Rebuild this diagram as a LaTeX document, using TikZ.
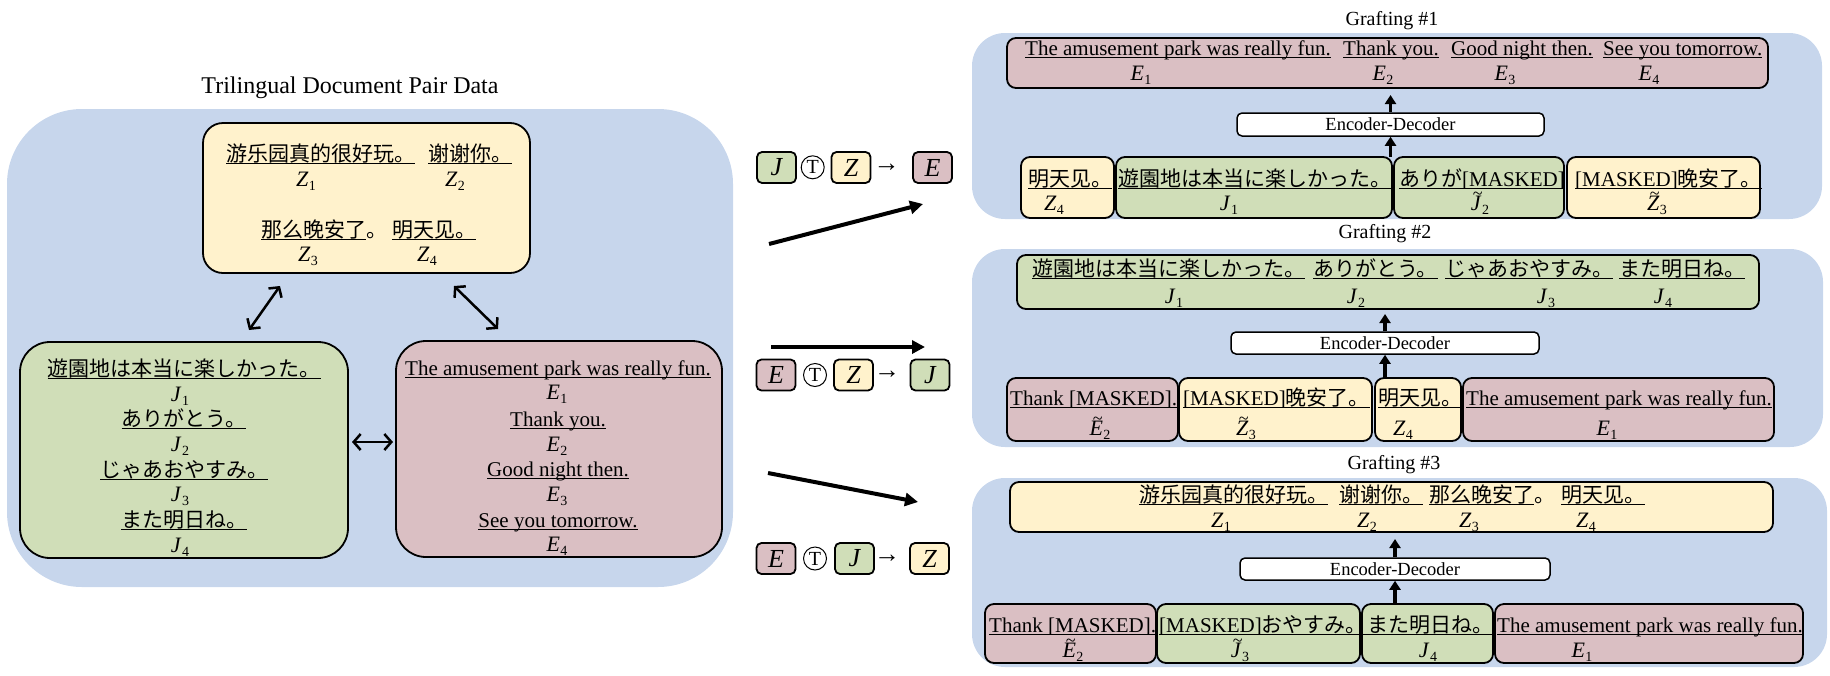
\documentclass[tikz,border=0pt]{standalone}
\usepackage{fontspec}
\setmainfont{Liberation Serif}
\newfontfamily\jpfont{Noto Sans CJK JP}
\newfontfamily\zhfont{Noto Sans CJK SC}
\usetikzlibrary{arrows.meta}
\definecolor{panelblue}{RGB}{199,214,236}
\definecolor{cyel}{RGB}{255,242,204}
\definecolor{cgrn}{RGB}{208,222,184}
\definecolor{cpnk}{RGB}{218,191,195}
\newsavebox\ulbox
\newcommand\ulx[1]{\sbox\ulbox{#1}\rlap{\rule[-3pt]{\wd\ulbox}{1.3pt}}\usebox\ulbox}
\newcommand\fs{\fontsize{21}{25}\selectfont}
\newcommand\lb[2]{\textit{#1}\kern0.5pt\raisebox{-4pt}{\fontsize{14}{14}\selectfont #2}}
\newcommand\tlb[2]{\ooalign{\textit{#1}\cr\hidewidth\kern3pt\raisebox{11pt}{\fontsize{18}{18}\selectfont\char"7E}\hidewidth\cr}\kern0.5pt\raisebox{-4pt}{\fontsize{14}{14}\selectfont #2}}
\newcommand\rbox[6]{\pgfmathsetmacro\rbw{(#5)-(#3)}\pgfmathsetmacro\rbh{(#6)-(#4)}%
  \node[#2, inner sep=0pt, outer sep=0pt, minimum width=\rbw pt, minimum height=\rbh pt] (#1) at ({((#3)+(#5))/2},{((#4)+(#6))/2}) {};}
\begin{document}
\begin{tikzpicture}[x=1pt,y=-1pt,
  panel/.style={fill=panelblue},
  bx/.style={draw=black, line width=1.8pt, rounded corners=9pt},
  ybx/.style={bx, fill=cyel}, gbx/.style={bx, fill=cgrn}, pbx/.style={bx, fill=cpnk},
  txt/.style={anchor=base west, inner sep=0pt, font=\fs},
  ctxt/.style={anchor=base, inner sep=0pt, font=\fs},
  lab/.style={inner sep=0pt, font=\fontsize{22}{24}\selectfont},
  head/.style={inner sep=0pt, font=\fontsize{20}{24}\selectfont},
  ttlstyle/.style={inner sep=0pt, font=\fontsize{24}{28}\selectfont},
  encbx/.style={draw=black, line width=1.5pt, fill=white, rounded corners=5pt, inner sep=0pt, font=\fontsize{18.5}{22}\selectfont},
  encarrow/.style={line width=3.5pt, -{Triangle[length=9pt,width=11pt]}},
  bigarrow/.style={line width=4pt, -{Triangle[length=13pt,width=13pt]}},
  dblarrow/.style={line width=2.5pt, {Straight Barb[length=7pt,width=16pt]}-{Straight Barb[length=7pt,width=16pt]}},
  fbx/.style={draw=black, line width=1.8pt, rounded corners=5pt, minimum width=39pt, minimum height=31pt, inner sep=0pt, font=\fontsize{26}{26}\selectfont\itshape},
  tcirc/.style={circle, draw=black, line width=1pt, minimum size=23pt, inner sep=0pt, font=\fontsize{20}{20}\selectfont},
  sarrow/.style={inner sep=0pt, font=\fontsize{26}{26}\selectfont}
]
\useasboundingbox (0,0) rectangle (1830,675);

% ---------------- left panel ----------------
\node[ttlstyle] (ttl) at (350,88) {Trilingual Document Pair Data};
\rbox{lp}{panel, rounded corners=75pt}{7}{109}{733}{587}
\rbox{zl}{ybx, rounded corners=20pt}{203}{123}{530}{273}
\rbox{gl}{gbx, rounded corners=30pt}{20}{342}{348}{558}
\rbox{pl}{pbx, rounded corners=30pt}{396}{341}{722}{557}

\node[txt] (zlt1) at (226,161) {\zhfont\ulx{游乐园真的很好玩。}};
\node[txt] (zlt2) at (428,161) {\zhfont\ulx{谢谢你。}};
\node[lab] (zll1) at (306,181) {\lb{Z}{1}};
\node[lab] (zll2) at (455,181) {\lb{Z}{2}};
\node[txt] (zlt3) at (261,237) {\zhfont\ulx{那么晚安了}。};
\node[txt] (zlt4) at (392,237) {\zhfont\ulx{明天见。}};
\node[lab] (zll3) at (308,256) {\lb{Z}{3}};
\node[lab] (zll4) at (427,256) {\lb{Z}{4}};

\node[ctxt] (glt1) at (184,376) {\jpfont\ulx{遊園地は本当に楽しかった。}};
\node[lab] (gll1) at (180,396) {\lb{J}{1}};
\node[ctxt] (glt2) at (184,426) {\jpfont\ulx{ありがとう。}};
\node[lab] (gll2) at (180,446) {\lb{J}{2}};
\node[ctxt] (glt3) at (184,477) {\jpfont\ulx{じゃあおやすみ。}};
\node[lab] (gll3) at (180,496) {\lb{J}{3}};
\node[ctxt] (glt4) at (184,527) {\jpfont\ulx{また明日ね。}};
\node[lab] (gll4) at (180,547) {\lb{J}{4}};

\node[ctxt] (plt1) at (558,375) {\ulx{The amusement park was really fun.}};
\node[lab] (pll1) at (557,394) {\lb{E}{1}};
\node[ctxt] (plt2) at (558,426) {\ulx{Thank you.}};
\node[lab] (pll2) at (557,446) {\lb{E}{2}};
\node[ctxt] (plt3) at (558,476) {\ulx{Good night then.}};
\node[lab] (pll3) at (557,496) {\lb{E}{3}};
\node[ctxt] (plt4) at (558,527) {\ulx{See you tomorrow.}};
\node[lab] (pll4) at (557,546) {\lb{E}{4}};

\coordinate (d1a) at (280,286); \coordinate (d1b) at (249,330);
\coordinate (d2a) at (454,286); \coordinate (d2b) at (498,329);
\coordinate (d3a) at (352,442); \coordinate (d3b) at (393,442);
\draw[dblarrow] (d1a) -- (d1b);
\draw[dblarrow] (d2a) -- (d2b);
\draw[dblarrow] (d3a) -- (d3b);

% ---------------- middle formulas ----------------
\node[fbx, fill=cgrn] (f1a) at (776.5,167.5) {J};
\node[tcirc] (f1t) at (812.7,167.3) {T};
\node[fbx, fill=cyel] (f1b) at (851,167.5) {Z};
\node[sarrow] (f1r) at (886.5,167.5) {→};
\node[fbx, fill=cpnk] (f1c) at (932.5,167.5) {E};

\node[fbx, fill=cpnk] (f2a) at (776,375) {E};
\node[tcirc] (f2t) at (815,375) {T};
\node[fbx, fill=cyel] (f2b) at (853.5,375) {Z};
\node[sarrow] (f2r) at (887,375) {→};
\node[fbx, fill=cgrn] (f2c) at (930,375) {J};

\node[fbx, fill=cpnk] (f3a) at (776,558.5) {E};
\node[tcirc] (f3t) at (815,558.5) {T};
\node[fbx, fill=cgrn] (f3b) at (854.5,558.5) {J};
\node[sarrow] (f3r) at (887,558.5) {→};
\node[fbx, fill=cyel] (f3c) at (929.5,558.5) {Z};

\coordinate (m1s) at (769,244); \coordinate (m1e) at (923,204);
\coordinate (m2s) at (771,347); \coordinate (m2e) at (925,347);
\coordinate (m3s) at (768,473); \coordinate (m3e) at (918,502);
\draw[bigarrow] (m1s) -- (m1e);
\draw[bigarrow] (m2s) -- (m2e);
\draw[bigarrow] (m3s) -- (m3e);

% ---------------- Grafting #1 ----------------
\node[head] (g1h) at (1392,21) {Grafting \#1};
\rbox{g1}{panel, rounded corners=33pt}{972}{33}{1822}{219}
\rbox{g1o}{pbx}{1007}{38}{1768}{88}
\node[txt] (g1t1) at (1025,55) {\ulx{The amusement park was really fun.}};
\node[txt] (g1t2) at (1343,55) {\ulx{Thank you.}};
\node[txt] (g1t3) at (1451,55) {\ulx{Good night then.}};
\node[txt] (g1t4) at (1603,55) {\ulx{See you tomorrow.}};
\node[lab] (g1l1) at (1141,75) {\lb{E}{1}};
\node[lab] (g1l2) at (1383,75) {\lb{E}{2}};
\node[lab] (g1l3) at (1505,75) {\lb{E}{3}};
\node[lab] (g1l4) at (1649,75) {\lb{E}{4}};
\node[encbx, minimum width=307pt, minimum height=23pt] (g1enc) at (1390.5,124.5) {Encoder-Decoder};
\rbox{g1b1}{ybx}{1021}{157}{1114}{218}
\rbox{g1b2}{gbx}{1116}{157}{1392}{218}
\rbox{g1b3}{gbx}{1394}{157}{1564}{218}
\rbox{g1b4}{ybx}{1567}{157}{1760}{218}
\node[txt] (g1s1) at (1028,186) {\zhfont\ulx{明天见。}};
\node[txt] (g1s2) at (1118,186) {\jpfont\ulx{遊園地は本当に楽しかった。}};
\node[txt] (g1s3) at (1399,186) {\ulx{{\jpfont ありが}[MASKED]}};
\node[txt] (g1s4) at (1575,186) {\ulx{[MASKED]{\zhfont 晚安了。}}};
\node[lab] (g1m1) at (1054,205) {\lb{Z}{4}};
\node[lab] (g1m2) at (1229,205) {\lb{J}{1}};
\node[lab] (g1m3) at (1480,205) {\tlb{J}{2}};
\node[lab] (g1m4) at (1657,205) {\tlb{Z}{3}};
\draw[encarrow, shorten >=7pt] (g1enc.north) -- (g1enc.north |- g1o.south);
\draw[encarrow] (g1enc.south |- g1b2.north) -- (g1enc.south);

% ---------------- Grafting #2 ----------------
\node[head] (g2h) at (1385,234) {Grafting \#2};
\rbox{g2}{panel, rounded corners=33pt}{972}{249}{1823}{447}
\rbox{g2o}{gbx}{1017}{255}{1759}{309}
\node[txt] (g2t1) at (1032,276) {\jpfont\ulx{遊園地は本当に楽しかった。}};
\node[txt] (g2t2) at (1313,276) {\jpfont\ulx{ありがとう。}};
\node[txt] (g2t3) at (1445,276) {\jpfont\ulx{じゃあおやすみ。}};
\node[txt] (g2t4) at (1619,276) {\jpfont\ulx{また明日ね。}};
\node[lab] (g2l1) at (1174,298) {\lb{J}{1}};
\node[lab] (g2l2) at (1356,298) {\lb{J}{2}};
\node[lab] (g2l3) at (1546,298) {\lb{J}{3}};
\node[lab] (g2l4) at (1663,298) {\lb{J}{4}};
\node[encbx, minimum width=308pt, minimum height=22pt] (g2enc) at (1385,343) {Encoder-Decoder};
\rbox{g2b1}{pbx}{1007}{378}{1178}{441}
\rbox{g2b2}{ybx}{1179}{378}{1372}{441}
\rbox{g2b3}{ybx}{1375}{378}{1461}{441}
\rbox{g2b4}{pbx}{1463}{378}{1774}{441}
\node[txt] (g2s1) at (1010,405) {\ulx{Thank [MASKED].}};
\node[txt] (g2s2) at (1183,405) {\ulx{[MASKED]{\zhfont 晚安了。}}};
\node[txt] (g2s3) at (1378,405) {\zhfont\ulx{明天见。}};
\node[txt] (g2s4) at (1466,405) {\ulx{The amusement park was really fun.}};
\node[lab] (g2m1) at (1100,430) {\tlb{E}{2}};
\node[lab] (g2m2) at (1246,430) {\tlb{Z}{3}};
\node[lab] (g2m3) at (1403,430) {\lb{Z}{4}};
\node[lab] (g2m4) at (1607,430) {\lb{E}{1}};
\draw[encarrow, shorten >=5pt] (g2enc.north) -- (g2enc.north |- g2o.south);
\draw[encarrow] (g2enc.south |- g2b3.north) -- (g2enc.south);

% ---------------- Grafting #3 ----------------
\node[head] (g3h) at (1394,465) {Grafting \#3};
\rbox{g3}{panel, rounded corners=33pt}{972}{478}{1827}{667}
\rbox{g3o}{ybx}{1010}{482}{1773}{532}
\node[txt] (g3t1) at (1139,502) {\zhfont\ulx{游乐园真的很好玩。}};
\node[txt] (g3t2) at (1339,502) {\zhfont\ulx{谢谢你。}};
\node[txt] (g3t3) at (1429,502) {\zhfont\ulx{那么晚安了}。};
\node[txt] (g3t4) at (1561,502) {\zhfont\ulx{明天见。}};
\node[lab] (g3l1) at (1221,522) {\lb{Z}{1}};
\node[lab] (g3l2) at (1367,522) {\lb{Z}{2}};
\node[lab] (g3l3) at (1469,522) {\lb{Z}{3}};
\node[lab] (g3l4) at (1586,522) {\lb{Z}{4}};
\node[encbx, minimum width=310pt, minimum height=22pt] (g3enc) at (1395,569) {Encoder-Decoder};
\rbox{g3b1}{pbx}{985}{604}{1156}{663}
\rbox{g3b2}{gbx}{1157}{604}{1360}{663}
\rbox{g3b3}{gbx}{1362}{604}{1493}{663}
\rbox{g3b4}{pbx}{1495}{604}{1803}{663}
\node[txt] (g3s1) at (989,632) {\ulx{Thank [MASKED].}};
\node[txt] (g3s2) at (1159,632) {\ulx{[MASKED]{\jpfont おやすみ。}}};
\node[txt] (g3s3) at (1367,632) {\jpfont\ulx{また明日ね。}};
\node[txt] (g3s4) at (1497,632) {\ulx{The amusement park was really fun.}};
\node[lab] (g3m1) at (1073,652) {\tlb{E}{2}};
\node[lab] (g3m2) at (1240,652) {\tlb{J}{3}};
\node[lab] (g3m3) at (1428,652) {\lb{J}{4}};
\node[lab] (g3m4) at (1582,652) {\lb{E}{1}};
\draw[encarrow, shorten >=7pt] (g3enc.north) -- (g3enc.north |- g3o.south);
\draw[encarrow] (g3enc.south |- g3b3.north) -- (g3enc.south);
\end{tikzpicture}
\end{document}
